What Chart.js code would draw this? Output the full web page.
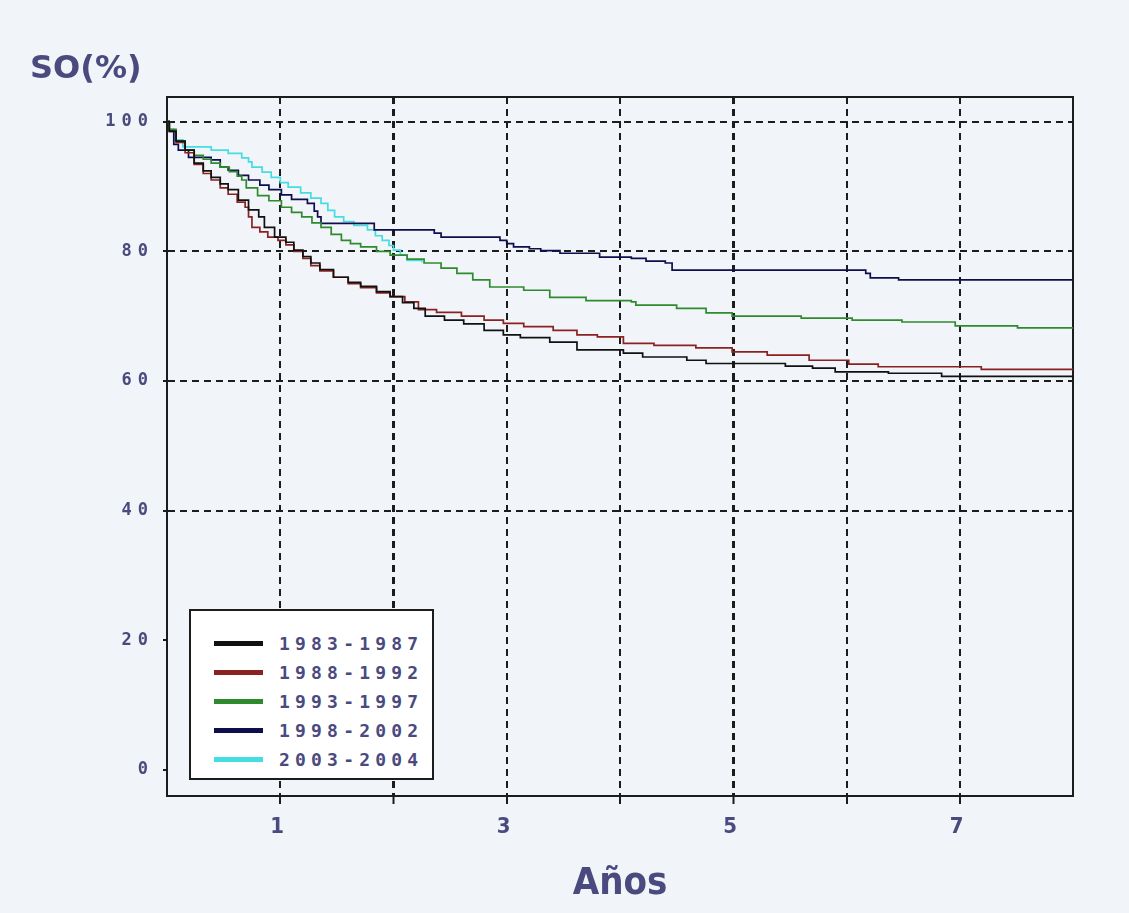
<!DOCTYPE html>
<html lang="es">
<head>
<meta charset="utf-8">
<title>SO(%) por periodo</title>
<script src="https://cdn.jsdelivr.net/npm/chart.js@4.4.1/dist/chart.umd.min.js"></script>
<style>
  html, body { margin: 0; padding: 0; background: #f1f4f8; }
  #wrap { position: relative; width: 1129px; height: 913px; }
  #legend {
    position: absolute; left: 189px; top: 609px; width: 241px; height: 167px;
    background: #fff; border: 2px solid #1c1c1c; box-sizing: content-box;
  }
  #legend ul { list-style: none; margin: 0; padding: 18px 0 0 0; }
  #legend li { display: flex; align-items: center; height: 29px; }
  #legend .sw { width: 49px; height: 5px; margin-left: 23px; margin-right: 16px; }
  #legend .tx {
    font: bold 18px "DejaVu Sans Mono", monospace; letter-spacing: 5.2px; color: #4a4a7e;
  }
</style>
</head>
<body>
<div id="wrap">
  <canvas id="soChart" width="1129" height="913"></canvas>
  <div id="legend"></div>
</div>
<script>
// Supervivencia global (SO %) por periodo, curvas Kaplan-Meier
const periods = ['1983-1987', '1988-1992', '1993-1997', '1998-2002', '2003-2004'];
const colors = ['#111111', '#8b2222', '#2f8a2f', '#0e0e4e', '#45dde4'];

const years8387 = [0, 0.02, 0.08, 0.16, 0.24, 0.32, 0.39, 0.47, 0.54, 0.63, 0.72, 0.81, 0.86, 0.95, 1.05, 1.12, 1.2, 1.27, 1.35, 1.47, 1.6, 1.71, 1.85, 1.97, 2.08, 2.18, 2.28, 2.45, 2.62, 2.8, 2.97, 3.12, 3.38, 3.62, 4.03, 4.2, 4.59, 4.76, 5.46, 5.7, 5.9, 6.37, 6.84, 8];
const so8387 = [100, 98.5, 97, 95.6, 93.6, 92.4, 91.4, 90.4, 89.5, 87.9, 86.4, 85.3, 83.7, 82.2, 81.4, 80.2, 79.2, 78.2, 77.2, 76, 75.2, 74.6, 73.8, 73, 72.1, 71.2, 70, 69.4, 68.8, 67.8, 67.1, 66.7, 66, 64.8, 64.3, 63.7, 63.2, 62.7, 62.3, 62, 61.4, 61.2, 60.7, 60.7];

const years8892 = [0, 0.02, 0.08, 0.16, 0.24, 0.32, 0.39, 0.47, 0.54, 0.62, 0.69, 0.72, 0.75, 0.82, 0.89, 0.98, 1.05, 1.12, 1.2, 1.27, 1.35, 1.47, 1.6, 1.71, 1.85, 1.97, 2.1, 2.22, 2.38, 2.6, 2.8, 2.97, 3.15, 3.41, 3.62, 3.8, 4.03, 4.3, 4.67, 4.99, 5.3, 5.67, 6.02, 6.28, 7.19, 8];
const so8892 = [100, 98.5, 96.8, 95.2, 93.4, 92, 91, 89.8, 88.8, 87.6, 86.8, 85.3, 83.7, 83, 82.2, 81.7, 81, 80, 78.9, 77.8, 77, 76, 75, 74.4, 73.6, 73, 72.2, 71, 70.6, 70, 69.4, 68.9, 68.4, 67.8, 67.1, 66.8, 65.8, 65.5, 65.1, 64.5, 64, 63.2, 62.6, 62.2, 61.8, 61.8];

const years9397 = [0, 0.02, 0.08, 0.16, 0.24, 0.32, 0.39, 0.47, 0.55, 0.62, 0.66, 0.7, 0.8, 0.9, 1.01, 1.1, 1.19, 1.28, 1.36, 1.45, 1.54, 1.62, 1.71, 1.85, 1.97, 2.12, 2.27, 2.42, 2.56, 2.7, 2.85, 3.15, 3.38, 3.7, 4.1, 4.14, 4.5, 4.76, 4.99, 5.6, 6.05, 6.49, 6.96, 7.51, 8];
const so9397 = [100, 98.8, 97, 95.6, 94.8, 94.2, 93.6, 93, 92.3, 91.6, 91, 89.8, 88.6, 87.8, 86.8, 86, 85.3, 84.4, 83.7, 82.6, 81.7, 81.2, 80.7, 80, 79.4, 78.8, 78.2, 77.4, 76.6, 75.6, 74.5, 74, 72.9, 72.4, 72.2, 71.7, 71.2, 70.5, 70, 69.7, 69.4, 69.1, 68.5, 68.2, 68.2];

const years9802 = [0, 0.02, 0.06, 0.1, 0.19, 0.39, 0.47, 0.54, 0.63, 0.72, 0.82, 0.9, 1.01, 1.1, 1.24, 1.3, 1.33, 1.36, 1.71, 1.83, 2.36, 2.42, 2.94, 3, 3.06, 3.2, 3.3, 3.47, 3.82, 4.1, 4.23, 4.4, 4.46, 6.13, 6.17, 6.21, 6.46, 8];
const so9802 = [100, 98.7, 96.5, 95.6, 94.5, 94.1, 93, 92.5, 91.7, 91, 90.2, 89.5, 88.7, 88, 87.4, 86.2, 85.3, 84.3, 84.3, 83.3, 82.8, 82.2, 81.7, 81.2, 80.7, 80.4, 80.1, 79.7, 79.1, 78.9, 78.5, 78.2, 77.1, 77.1, 76.6, 75.9, 75.6, 75.6];

const years0304 = [0, 0.02, 0.06, 0.14, 0.39, 0.54, 0.66, 0.72, 0.75, 0.84, 0.92, 1, 1.07, 1.18, 1.27, 1.36, 1.42, 1.48, 1.56, 1.65, 1.77, 1.84, 1.9, 1.96, 2, 2.06, 2.12, 2.25];
const so0304 = [100, 98.8, 97.2, 96.1, 95.6, 95.1, 94.4, 93.8, 93, 92.2, 91.4, 90.6, 89.9, 89, 88.2, 87.4, 86.3, 85.3, 84.6, 84, 83.3, 82.4, 81.7, 80.9, 80.2, 79.4, 78.6, 78.3];

const yearSeries = [years8387, years8892, years9397, years9802, years0304];
const soSeries = [so8387, so8892, so9397, so9802, so0304];

const yTicks = [0, 20, 40, 60, 80, 100];
const xLabelTicks = [1, 3, 5, 7];
const xHeavyLines = [2, 5];

const textColor = '#4a4a7e';
const gridColor = '#1c1c1c';

// frame + letter spacing for tick labels only (ticks are drawn after the datasets, titles before)
const spacingPlugin = {
    id: 'spacing',
    beforeDraw(chart) { chart.ctx.letterSpacing = '0px'; },
    beforeDatasetsDraw(chart) {
        const a = chart.chartArea;
        const ctx = chart.ctx;
        ctx.save();
        ctx.strokeStyle = gridColor;
        ctx.lineWidth = 2;
        ctx.strokeRect(a.left, a.top, a.right - a.left, a.bottom - a.top);
        ctx.restore();
    },
    afterDatasetsDraw(chart) { chart.ctx.letterSpacing = '6px'; },
    afterDraw(chart) { chart.ctx.letterSpacing = '0px'; }
};

// html legend built from the datasets
const htmlLegend = {
    id: 'htmlLegend',
    afterUpdate(chart) {
        const box = document.getElementById('legend');
        box.innerHTML = '';
        const ul = document.createElement('ul');
        chart.data.datasets.forEach(ds => {
            const li = document.createElement('li');
            const sw = document.createElement('span');
            sw.className = 'sw';
            sw.style.background = ds.borderColor;
            const tx = document.createElement('span');
            tx.className = 'tx';
            tx.textContent = ds.label;
            li.appendChild(sw);
            li.appendChild(tx);
            ul.appendChild(li);
        });
        box.appendChild(ul);
    }
};

const datasets = periods.map((p, i) => ({
    label: p,
    data: yearSeries[i].map((t, j) => ({ x: t, y: soSeries[i][j] })),
    borderColor: colors[i],
    borderWidth: 1.7,
    pointRadius: 0,
    stepped: true,
    fill: false
}));

new Chart(document.getElementById('soChart').getContext('2d'), {
    type: 'line',
    data: { datasets: datasets },
    options: {
        responsive: false,
        devicePixelRatio: 1,
        animation: false,
        events: [],
        layout: { padding: { left: 30, right: 56, top: 0, bottom: 0 } },
        plugins: {
            legend: { display: false },
            tooltip: { enabled: false },
            title: {
                display: true,
                text: 'SO(%)',
                align: 'start',
                color: textColor,
                font: { family: '"DejaVu Sans"', size: 32, weight: 'bold' },
                padding: { top: 50, bottom: 8.6 }
            }
        },
        scales: {
            x: {
                type: 'linear',
                min: 0,
                max: 8,
                afterFit: scale => { scale.height = 117; },
                border: { display: true, color: gridColor, width: 2, dash: [7, 5] },
                grid: {
                    color: c => (c.tick && c.tick.value > 0 && c.tick.value < 8) ? gridColor : 'rgba(0,0,0,0)',
                    lineWidth: c => (c.tick && xHeavyLines.includes(c.tick.value)) ? 3 : 2,
                    tickColor: c => (c.tick && c.tick.value > 0 && c.tick.value < 8) ? gridColor : 'rgba(0,0,0,0)',
                    tickLength: 8,
                    tickWidth: 2
                },
                ticks: {
                    stepSize: 1,
                    z: 1,
                    padding: 10,
                    color: textColor,
                    maxRotation: 0,
                    autoSkip: false,
                    font: { family: '"DejaVu Sans Condensed", "DejaVu Sans"', size: 22, weight: 'bold' },
                    callback: v => xLabelTicks.includes(v) ? String(v) : ''
                },
                title: {
                    display: true,
                    text: 'Años',
                    color: textColor,
                    font: { family: '"DejaVu Sans Condensed", "DejaVu Sans"', size: 38, weight: 'bold' },
                    padding: { top: 0, bottom: 6 }
                }
            },
            y: {
                type: 'linear',
                min: -4,
                max: 103.8,
                afterFit: scale => { scale.width = 137; },
                border: { display: true, color: gridColor, width: 2, dash: [7, 5] },
                grid: {
                    color: c => (c.tick && c.tick.value >= 40) ? gridColor : 'rgba(0,0,0,0)',
                    lineWidth: 2,
                    tickColor: gridColor,
                    tickLength: 4,
                    tickWidth: 2
                },
                ticks: {
                    stepSize: 20,
                    includeBounds: false,
                    z: 1,
                    padding: 9,
                    color: textColor,
                    font: { family: '"DejaVu Sans Mono"', size: 17, weight: 'bold' },
                    callback: v => yTicks.includes(v) ? String(v) : ''
                }
            }
        }
    },
    plugins: [spacingPlugin, htmlLegend]
});
</script>
</body>
</html>
